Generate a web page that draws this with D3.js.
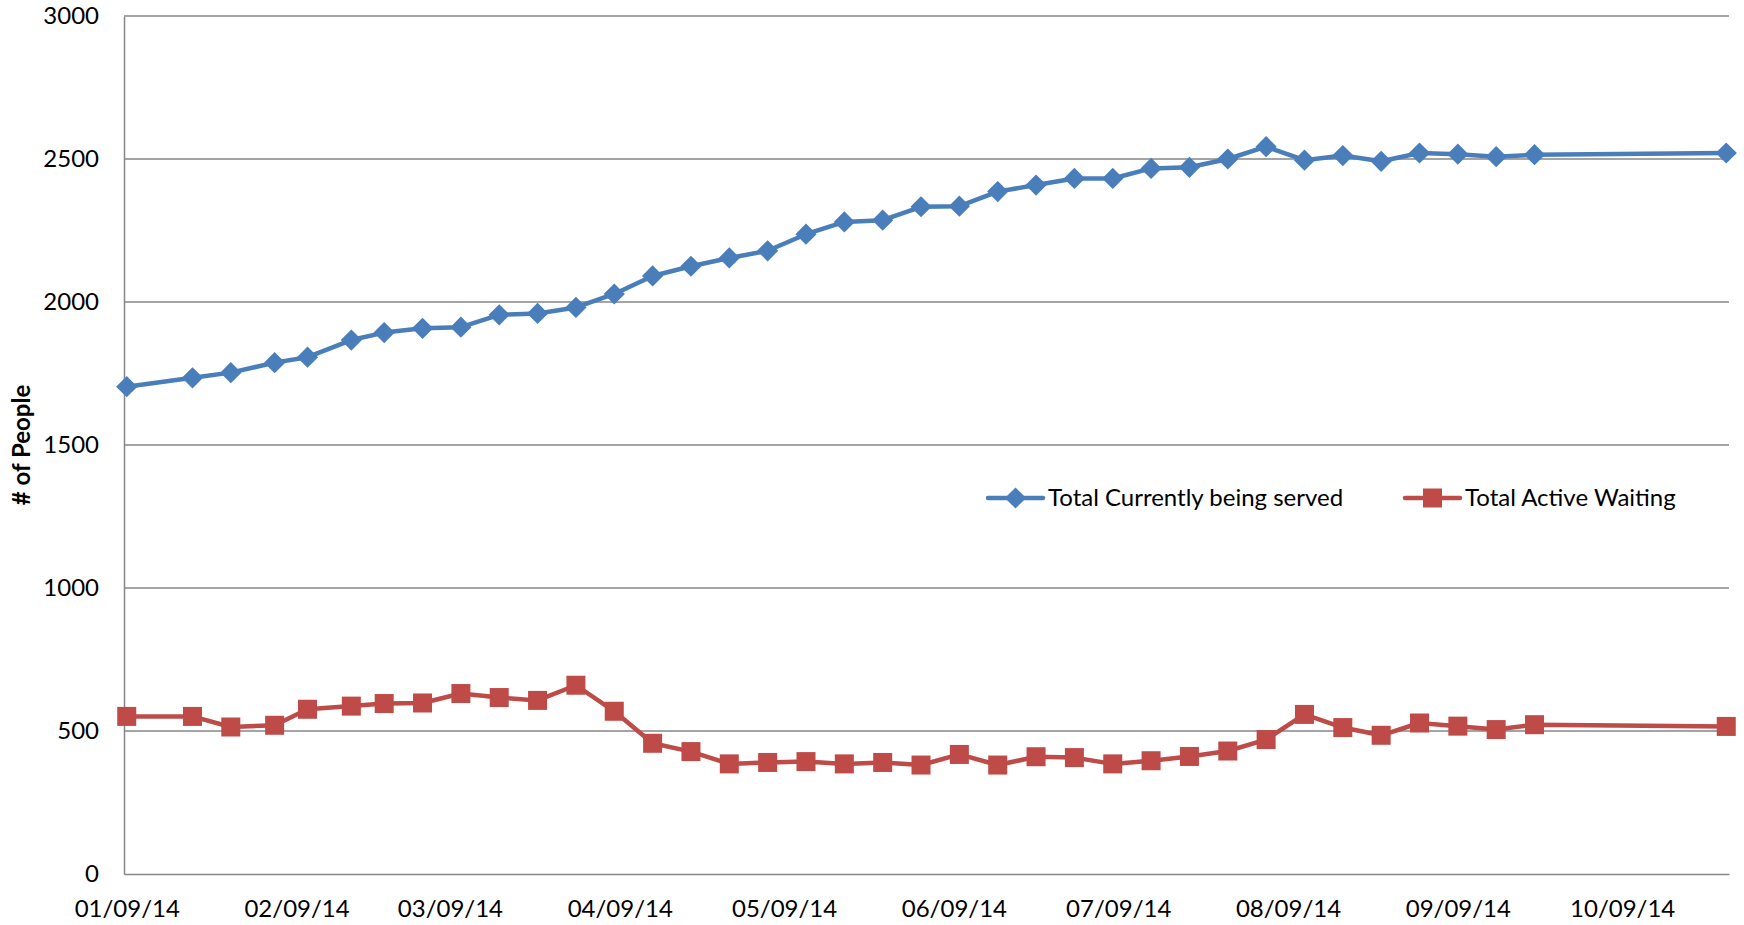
<!DOCTYPE html>
<html lang="en">
<head>
  <meta charset="UTF-8">
  <title># of People: Currently Served vs Active Waiting</title>
  <script src="https://d3js.org/d3.v7.min.js"></script>
  <style>
    body {
      margin: 0;
      background: #ffffff;
      font-family: Lato, "Open Sans", sans-serif;
    }
    .axis text {
      font-family: Lato, "Open Sans", sans-serif;
      font-size: 24px;
      fill: #000;
    }
    .axis path {
      stroke: #868686;
      stroke-width: 1.5;
    }
    .grid line {
      stroke: #868686;
      stroke-width: 1.5;
    }
    .legend text {
      font-size: 24px;
      fill: #000;
    }
  </style>
</head>
<body>

<svg width="1744" height="925"></svg>

<script>
// weekly snapshot dates (mm/dd/yy on the axis)
const dates = [
  "2014-01-09", "2014-01-21", "2014-01-28", "2014-02-05", "2014-02-11", "2014-02-19",
  "2014-02-25", "2014-03-04", "2014-03-11", "2014-03-18", "2014-03-25", "2014-04-01",
  "2014-04-08", "2014-04-15", "2014-04-22", "2014-04-29", "2014-05-06", "2014-05-13",
  "2014-05-20", "2014-05-27", "2014-06-03", "2014-06-10", "2014-06-17", "2014-06-24",
  "2014-07-01", "2014-07-08", "2014-07-15", "2014-07-22", "2014-07-29", "2014-08-05",
  "2014-08-12", "2014-08-19", "2014-08-26", "2014-09-02", "2014-09-09", "2014-09-16",
  "2014-09-23", "2014-10-28"
];

const currentlyServed = [
  1704, 1735, 1753, 1788, 1807, 1867, 1893, 1908, 1912, 1955, 1960, 1981,
  2028, 2091, 2125, 2154, 2179, 2237, 2280, 2286, 2333, 2335, 2386, 2409,
  2432, 2432, 2467, 2471, 2500, 2543, 2496, 2512, 2492, 2521, 2517, 2508,
  2515, 2521
];

const activeWaiting = [
  551, 551, 514, 520, 576, 587, 596, 598, 631, 617, 607, 660,
  569, 457, 428, 385, 390, 393, 385, 390, 381, 418, 381, 410,
  407, 385, 396, 411, 430, 470, 558, 512, 485, 528, 517, 505,
  522, 516
];

const xTickDates = [
  "2014-01-09", "2014-02-09", "2014-03-09", "2014-04-09", "2014-05-09",
  "2014-06-09", "2014-07-09", "2014-08-09", "2014-09-09", "2014-10-09"
];
const yTickValues = [0, 500, 1000, 1500, 2000, 2500, 3000];

const seriesNames = ["Total Currently being served", "Total Active Waiting"];
const seriesColors = ["#4A7EBB", "#BE4B48"];

const parseDate = d3.timeParse("%Y-%m-%d");
const formatDate = d3.timeFormat("%m/%d/%y");

const svg = d3.select("svg"),
      margin = {top: 16, right: 15, bottom: 51, left: 124},
      width = +svg.attr("width") - margin.left - margin.right,
      height = +svg.attr("height") - margin.top - margin.bottom;

const g = svg.append("g").attr("transform", `translate(${margin.left},${margin.top})`);

const parsed = dates.map(parseDate);

// Excel date axis puts half a day of padding on each end
const first = d3.timeHour.offset(parsed[0], -12),
      last = d3.timeHour.offset(parsed[parsed.length - 1], 12);

const x = d3.scaleTime()
            .domain([first, last])
            .range([0, width]);

const y = d3.scaleLinear()
            .domain([0, 3000])
            .range([height, 0]);

// horizontal gridlines
g.append("g")
  .attr("class", "grid")
  .selectAll("line")
  .data(yTickValues.filter(v => v > 0))
  .enter()
  .append("line")
  .attr("x1", 0)
  .attr("x2", width)
  .attr("y1", d => y(d))
  .attr("y2", d => y(d));

g.append("g")
  .attr("class", "axis")
  .attr("transform", `translate(0,${height})`)
  .call(d3.axisBottom(x)
          .tickValues(xTickDates.map(parseDate))
          .tickFormat(formatDate)
          .tickSize(0)
          .tickPadding(26));

g.append("g")
  .attr("class", "axis")
  .call(d3.axisLeft(y)
          .tickValues(yTickValues)
          .tickFormat(d3.format("d"))
          .tickSize(0)
          .tickPadding(25));

svg.append("text")
   .attr("transform", "rotate(-90)")
   .attr("x", -(margin.top + height / 2))
   .attr("y", 22)
   .attr("dy", "0.35em")
   .attr("text-anchor", "middle")
   .style("font-size", "24px")
   .style("font-weight", "bold")
   .text("# of People");

const series = [currentlyServed, activeWaiting].map((values, i) => ({
  name: seriesNames[i],
  color: seriesColors[i],
  points: values.map((v, j) => ({date: parsed[j], value: v}))
}));

const line = d3.line()
  .x(d => x(d.date))
  .y(d => y(d.value));

function drawMarker(sel, i, color) {
  if (i === 0) {
    sel.append("rect")
      .attr("x", -7.5).attr("y", -7.5)
      .attr("width", 15).attr("height", 15)
      .attr("transform", "rotate(45)")
      .attr("fill", color);
  } else {
    sel.append("rect")
      .attr("x", -9.5).attr("y", -9.5)
      .attr("width", 19).attr("height", 19)
      .attr("fill", color);
  }
}

series.forEach((s, i) => {
  g.append("path")
    .datum(s.points)
    .attr("fill", "none")
    .attr("stroke", s.color)
    .attr("stroke-width", 4.5)
    .attr("stroke-linejoin", "round")
    .attr("d", line);

  g.append("g")
    .selectAll("g")
    .data(s.points)
    .enter()
    .append("g")
    .attr("transform", d => `translate(${x(d.date)},${y(d.value)})`)
    .each(function () { drawMarker(d3.select(this), i, s.color); });
});

// legend
const legend = svg.append("g").attr("class", "legend");
const legendX = [988, 1405];
series.forEach((s, i) => {
  const lg = legend.append("g").attr("transform", `translate(${legendX[i]},498)`);
  lg.append("line")
    .attr("x1", 0).attr("x2", 55)
    .attr("stroke", s.color)
    .attr("stroke-width", 4.5)
    .attr("stroke-linecap", "round");
  const m = lg.append("g").attr("transform", "translate(27.5,0)");
  drawMarker(m, i, s.color);
  lg.append("text")
    .attr("x", 60)
    .attr("dy", "0.35em")
    .text(s.name);
});
</script>

</body>
</html>
